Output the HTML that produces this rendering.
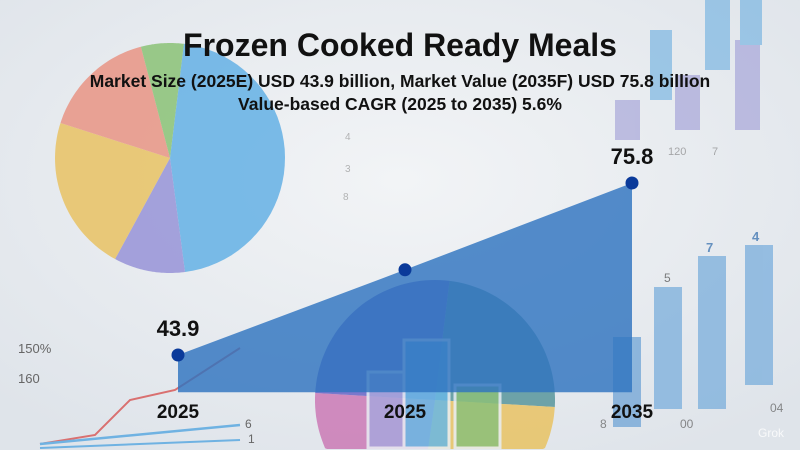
<!DOCTYPE html>
<html><head><meta charset="utf-8"><style>
html,body{margin:0;padding:0;width:800px;height:450px;overflow:hidden;background:#e9edf1;font-family:"Liberation Sans",sans-serif}
svg{display:block}
</style></head><body>
<svg id="chart" width="800" height="450" viewBox="0 0 800 450" xmlns="http://www.w3.org/2000/svg">
<defs><radialGradient id="bg" cx="0.5" cy="0.4" r="0.7"><stop offset="0" stop-color="#f2f4f6"/><stop offset="1" stop-color="#dfe4ea"/></radialGradient></defs>
<rect width="800" height="450" fill="url(#bg)"/>
<g opacity="0.6">
<rect x="615" y="100" width="25" height="40" fill="#9d9bd6"/>
<rect x="650" y="30" width="22" height="70" fill="#6aaee0"/>
<rect x="675" y="75" width="25" height="55" fill="#9d9bd6"/>
<rect x="705" y="0" width="25" height="70" fill="#6aaee0"/>
<rect x="735" y="40" width="25" height="90" fill="#9d9bd6"/>
<rect x="740" y="0" width="22" height="45" fill="#6aaee0"/>
<text x="668" y="155" font-size="11" fill="#777">120</text><text x="712" y="155" font-size="11" fill="#777">7</text>
<text x="345" y="140" font-size="10" fill="#888">4</text><text x="345" y="172" font-size="10" fill="#888">3</text><text x="343" y="200" font-size="10" fill="#888">8</text>
</g>
<g opacity="0.75">
<rect x="613" y="337" width="28" height="90" fill="#6fa4d6"/>
<rect x="654" y="287" width="28" height="122" fill="#7aaedc"/>
<rect x="698" y="256" width="28" height="153" fill="#7aaedc"/>
<rect x="745" y="245" width="28" height="140" fill="#7aaedc"/>
<text x="664" y="282" font-size="12" fill="#555">5</text><text x="706" y="252" font-size="13" font-weight="bold" fill="#3a73b0">7</text><text x="752" y="241" font-size="13" font-weight="bold" fill="#3a73b0">4</text>
<text x="680" y="428" font-size="12" fill="#666">00</text><text x="770" y="412" font-size="12" fill="#666">04</text>
<text x="600" y="428" font-size="12" fill="#666">8</text>
</g>
<g>
<text x="18" y="353" font-size="13" fill="#666">150%</text><text x="18" y="383" font-size="13" fill="#666">160</text>
<polyline points="40,444 95,435 130,400 175,390 240,348" fill="none" stroke="#d97070" stroke-width="2"/>
<line x1="40" y1="444" x2="240" y2="425" stroke="#6fb2e2" stroke-width="2.5"/>
<line x1="40" y1="448" x2="240" y2="440" stroke="#6fb2e2" stroke-width="2"/>
<text x="245" y="428" font-size="12" fill="#666">6</text><text x="248" y="443" font-size="12" fill="#666">1</text>
</g>
<g id="pieTop"></g>
<g id="pieBottom"></g>
<g opacity="0.85">
<rect x="368" y="372" width="40" height="76" fill="#a9a6dc" stroke="#e8eef4" stroke-width="3"/>
<rect x="404" y="340" width="45" height="108" fill="#6ab8e4" stroke="#e8eef4" stroke-width="3"/>
<rect x="455" y="385" width="45" height="63" fill="#8cc07a" stroke="#e8eef4" stroke-width="3"/>
</g>
<g id="area"></g>
<text x="400" y="56" text-anchor="middle" font-size="32" font-weight="bold" fill="#111">Frozen Cooked Ready Meals</text>
<text x="400" y="87" text-anchor="middle" font-size="17.5" font-weight="bold" fill="#111">Market Size (2025E) USD 43.9 billion, Market Value (2035F) USD 75.8 billion</text>
<text x="400" y="110" text-anchor="middle" font-size="17.5" font-weight="bold" fill="#111">Value-based CAGR (2025 to 2035) 5.6%</text>
<text x="758" y="437" font-size="12" fill="#fff" opacity="0.8">Grok</text>
</svg>
<script>
const categories=["2025","2025","2035"];
const values=[43.9,59.7,75.8];
const valueLabels=["43.9","","75.8"];
const pieTopValues=[46,10,22,16,6];
const pieTopColors=["#6cb4e6","#9b98d8","#e8c46a","#e8998a","#8fc47c"];
const pieBottomValues=[24,25,25,26];
const pieBottomColors=["#5f9aa0","#e8c46a","#cc7fb8","#6e6cc8"];
const NS="http://www.w3.org/2000/svg";
const xPos=i=>178+i*227;
const yPos=v=>355-(v-43.9)*5.392;
const baseV=37.0;
function mk(t,a,p){const e=document.createElementNS(NS,t);for(const k in a)e.setAttribute(k,a[k]);p.appendChild(e);return e;}
function pie(g,cx,cy,r,vals,cols,start){
 const tot=vals.reduce((a,b)=>a+b,0);let a=start;
 vals.forEach((v,i)=>{const b=a+v/tot*2*Math.PI;
  const pts=[[cx,Math.min(cy,449)]];
  const n=40;
  for(let k=0;k<=n;k++){const t=a+(b-a)*k/n;pts.push([cx+r*Math.cos(t),Math.min(cy+r*Math.sin(t),449)]);}
  const p=mk("polygon",{points:pts.map(q=>q[0].toFixed(1)+","+q[1].toFixed(1)).join(" "),fill:cols[i],opacity:0.9},g);
  
  
  a=b;});
}
pie(document.getElementById("pieTop"),170,158,115,pieTopValues,pieTopColors,-1.45);
pie(document.getElementById("pieBottom"),435,400,120,pieBottomValues,pieBottomColors,-1.45);
const g=document.getElementById("area");
let pts=values.map((v,i)=>xPos(i)+","+yPos(v)).join(" ");
pts+=` ${xPos(values.length-1)},${yPos(baseV)} ${xPos(0)},${yPos(baseV)}`;
const poly=mk("polygon",{points:pts,fill:"#2f74c0","fill-opacity":0.82},g);


values.forEach((v,i)=>{
 const c=mk("circle",{cx:xPos(i),cy:yPos(v),r:6.5,fill:"#0a3a9a"},g);
 
 
 if(valueLabels[i]){const t=mk("text",{x:xPos(i),y:yPos(v)-19,"text-anchor":"middle","font-size":22,"font-weight":"bold",fill:"#111"},g);t.textContent=valueLabels[i];
  
  }
 const y=mk("text",{x:xPos(i),y:418,"text-anchor":"middle","font-size":19,"font-weight":"bold",fill:"#111"},g);y.textContent=categories[i];
 
 
});
</script>
</body></html>
